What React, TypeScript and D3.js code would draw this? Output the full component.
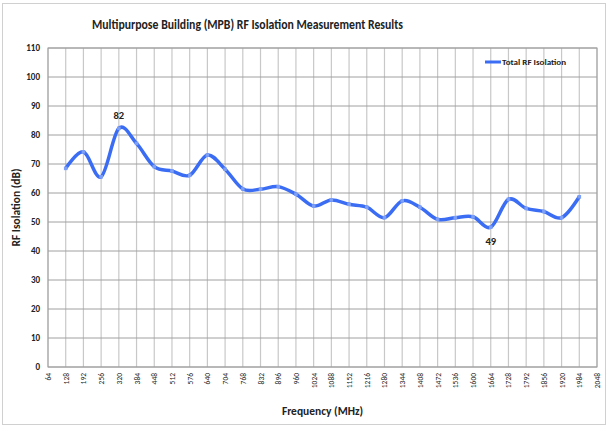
import React from 'react';
import * as d3 from 'd3';

// x categories (MHz) shown on the axis
const freqTicks: number[] = d3.range(64, 2049, 64);
// measured frequencies and values
const freqs: number[] = [128, 192, 256, 320, 384, 448, 512, 576, 640, 704, 768, 832, 896, 960, 1024,
    1088, 1152, 1216, 1280, 1344, 1408, 1472, 1536, 1600, 1664, 1728, 1792, 1856, 1920, 1984];
const isolation: number[] = [68.5, 74.2, 65.6, 82.3, 77.1, 69.1, 67.6, 66.1, 73.1, 68.2, 61.4, 61.3, 62.2, 59.6, 55.5,
    57.6, 56.1, 55.1, 51.5, 57.3, 55.1, 50.9, 51.5, 51.8, 48.2, 57.8, 54.7, 53.6, 51.5, 58.7];
const yTicks: number[] = d3.range(0, 111, 10);
const labelFreqs: number[] = [320, 1664];
const labelTexts: string[] = ['82', '49'];
const labelAbove: boolean[] = [true, false];

const W = 609;
const H = 428;
const margin = { top: 48, right: 12, bottom: 61, left: 48 };

const App: React.FC = () => {
    const x = d3.scalePoint<number>()
        .domain(freqTicks)
        .range([margin.left, W - margin.right]);
    const y = d3.scaleLinear()
        .domain([0, 110])
        .range([H - margin.bottom, margin.top]);

    const pts = freqs.map((f, i) => ({ f, v: isolation[i] }));
    const line = d3.line<{ f: number; v: number }>()
        .x(d => x(d.f) as number)
        .y(d => y(d.v))
        .curve(d3.curveCardinal.tension(0));

    const labels = labelFreqs.map((f, i) => {
        const v = isolation[freqs.indexOf(f)];
        const px = x(f) as number;
        const py = labelAbove[i] ? y(v) - 9 : y(v) + 18;
        return { f, px, py, text: labelTexts[i] };
    });

    const font = "Carlito, 'Liberation Sans', sans-serif";
    const x0 = margin.left, x1 = W - margin.right;
    const y0 = H - margin.bottom, y1 = margin.top;

    return (
        <svg width={W} height={H} style={{ position: 'absolute', left: 0, top: 0, background: '#fff' }}
            fontFamily={font}>
            <rect x={2.5} y={3.5} width={603} height={421} fill="#fff" stroke="#d0d0d0" />
            <text x={92} y={29} fontSize={13} fontWeight="bold" fill="#222" textLength={311}
                lengthAdjust="spacingAndGlyphs">
                Multipurpose Building (MPB) RF Isolation Measurement Results
            </text>

            {/* grid */}
            {freqTicks.map(f => (
                <line key={'v' + f} x1={x(f)} x2={x(f)} y1={y1} y2={y0} stroke="#c8c8c8" strokeWidth={1.2} />
            ))}
            {yTicks.map(t => (
                <line key={'h' + t} x1={x0} x2={x1} y1={y(t)} y2={y(t)} stroke="#a0a0a0" strokeWidth={1} />
            ))}
            <rect x={x0} y={y1} width={x1 - x0} height={y0 - y1} fill="none" stroke="#a0a0a0" />

            {/* y ticks */}
            {yTicks.map(t => (
                <text key={'yt' + t} x={40} y={y(t) + 3} textAnchor="end" fontSize={9} fontWeight="bold" fill="#222">
                    {t}
                </text>
            ))}
            {/* x ticks */}
            {freqTicks.map(f => (
                <text key={'xt' + f} transform={`translate(${(x(f) as number) + 3},${373}) rotate(-90)`}
                    textAnchor="end" fontSize={7.5} fill="#222">
                    {f}
                </text>
            ))}

            <text transform={`translate(20,${(y0 + y1) / 2}) rotate(-90)`} textAnchor="middle"
                fontSize={11.5} fontWeight="bold" fill="#222">RF Isolation  (dB)</text>
            <text x={(x0 + x1) / 2} y={415} textAnchor="middle" fontSize={11.5} fontWeight="bold" fill="#222">
                Frequency (MHz)
            </text>

            {/* series */}
            <path d={line(pts) ?? ''} fill="none" stroke="#3a6cf4" strokeWidth={3.5} strokeLinejoin="round" />
            {pts.map(p => (
                <rect key={'m' + p.f} x={(x(p.f) as number) - 1.8} y={y(p.v) - 1.8} width={3.6} height={3.6}
                    fill="#7d9ff5" />
            ))}
            {labels.map(l => (
                <text key={'lb' + l.f} x={l.px} y={l.py} textAnchor="middle"
                    fontSize={10.5} fontWeight="bold" fill="#222">{l.text}</text>
            ))}

            {/* legend */}
            <line x1={485} x2={501} y1={62} y2={62} stroke="#3a6cf4" strokeWidth={3} />
            <text x={502} y={64.5} fontSize={7.5} fontWeight="bold" fill="#222" textLength={64}
                lengthAdjust="spacingAndGlyphs">Total RF Isolation</text>
        </svg>
    );
};

export default App;
